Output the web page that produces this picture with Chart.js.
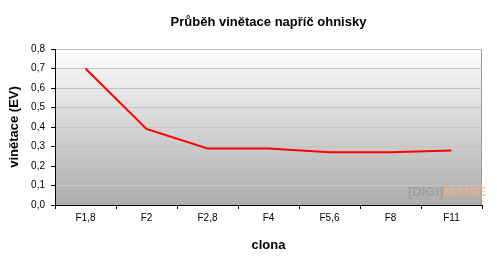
<!DOCTYPE html>
<html>
<head>
<meta charset="utf-8">
<script src="https://cdn.jsdelivr.net/npm/chart.js@4.4.0/dist/chart.umd.min.js"></script>
<style>
  html, body { margin: 0; padding: 0; background: #fff; }
  #wrap { width: 497px; height: 271px; }
</style>
</head>
<body>
<div id="wrap"><canvas id="vinetace"></canvas></div>
<script>
// data
const clony = ["F1,8", "F2", "F2,8", "F4", "F5,6", "F8", "F11"];
const vinetace = [0.70, 0.39, 0.29, 0.29, 0.27, 0.27, 0.28];
const yTicks = [0, 0.1, 0.2, 0.3, 0.4, 0.5, 0.6, 0.7, 0.8];

const font = "'Liberation Sans', Arial, sans-serif";

// gray gradient behind the plot + the watermark
const plotBg = {
  id: 'plotBg',
  beforeDraw(chart) {
    const a = chart.chartArea;
    const ctx = chart.ctx;
    const g = ctx.createLinearGradient(0, a.top, 0, a.bottom);
    g.addColorStop(0, '#fdfdfd');
    g.addColorStop(1, '#acacac');
    ctx.save();
    ctx.fillStyle = g;
    ctx.fillRect(a.left, a.top, a.right - a.left, a.bottom - a.top);
    ctx.strokeStyle = '#9a9a9a';
    ctx.lineWidth = 1;
    ctx.beginPath();
    ctx.moveTo(a.right - 0.5, a.top);
    ctx.lineTo(a.right - 0.5, a.bottom);
    ctx.stroke();
    ctx.restore();
  },
  afterDatasetsDraw(chart) {
    const a = chart.chartArea;
    const ctx = chart.ctx;
    ctx.save();
    ctx.font = "bold 13px " + font;
    ctx.textBaseline = 'middle';
    ctx.fillStyle = 'rgba(150,150,150,0.7)';
    ctx.fillText("[DIGI]", a.right - 74, a.bottom - 13);
    ctx.fillStyle = 'rgba(245,175,125,0.75)';
    ctx.fillText("MANIE", a.right - 38, a.bottom - 13);
    ctx.restore();
  }
};

new Chart(document.getElementById('vinetace'), {
  type: 'line',
  data: {
    labels: clony,
    datasets: [{
      data: vinetace,
      borderColor: '#ff0000',
      borderWidth: 2,
      pointRadius: 0,
      tension: 0,
      fill: false
    }]
  },
  options: {
    responsive: true,
    maintainAspectRatio: false,
    animation: false,
    layout: { padding: { left: 0, right: 15, top: 0, bottom: 0 } },
    plugins: {
      legend: { display: false },
      tooltip: { enabled: false },
      title: {
        display: true,
        text: 'Průběh vinětace napříč ohnisky',
        fullSize: false,
        color: '#000',
        font: { family: font, size: 13, weight: 'bold' },
        padding: { top: 15, bottom: 18.4 }
      }
    },
    scales: {
      x: {
        offset: true,
        grid: {
          offset: true,
          drawOnChartArea: false,
          color: '#000',
          tickLength: 4
        },
        border: { color: '#000', width: 1 },
        ticks: {
          color: '#000',
          padding: 3,
          font: { family: font, size: 10 }
        },
        title: {
          display: true,
          text: 'clona',
          color: '#000',
          font: { family: font, size: 13, weight: 'bold' },
          padding: { top: 2, bottom: 18 }
        },
        afterFit(scale) { scale.height = 66; }
      },
      y: {
        min: 0,
        max: 0.8,
        afterBuildTicks(scale) {
          scale.ticks = yTicks.map(v => ({ value: v }));
        },
        grid: {
          color: '#c4c4c4',
          tickColor: '#000',
          tickLength: 4
        },
        border: { color: '#000', width: 1 },
        ticks: {
          color: '#000',
          padding: 6,
          font: { family: font, size: 10 },
          callback: v => v.toFixed(1).replace('.', ',')
        },
        title: {
          display: true,
          text: 'vinětace (EV)',
          color: '#000',
          font: { family: font, size: 13, weight: 'bold' },
          padding: { top: 7, bottom: 0 }
        },
        afterFit(scale) { scale.width = 55; }
      }
    }
  },
  plugins: [plotBg]
});
</script>
</body>
</html>
